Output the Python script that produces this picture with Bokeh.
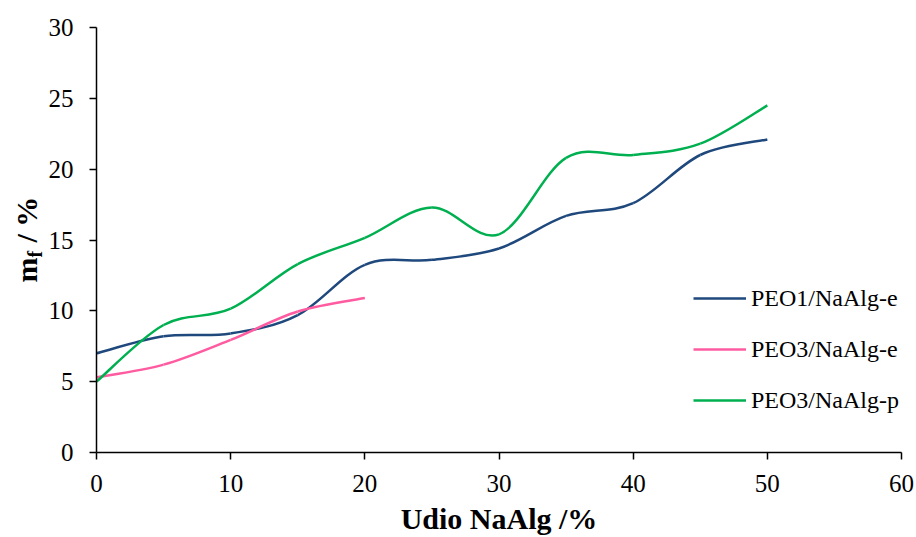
import numpy as np
from bokeh.plotting import figure
from bokeh.layouts import row
from bokeh.models import Legend, LegendItem, ColumnDataSource
from bokeh.core.properties import value
from bokeh.embed import file_html
from bokeh.resources import INLINE

# ---- data ----
x_vals = [0, 5, 10, 15, 20, 25, 30, 35, 40, 45, 50]
peo1_e = [7.0, 8.2, 8.4, 9.7, 13.25, 13.6, 14.4, 16.7, 17.6, 21.0, 22.1]
x_peo3_e = [0, 5, 10, 15, 20]
peo3_e = [5.3, 6.2, 7.95, 9.95, 10.9]
peo3_p = [5.0, 9.0, 10.15, 13.3, 15.15, 17.3, 15.4, 20.8, 21.0, 21.8, 24.5]

series_names = ["PEO1/NaAlg-e", "PEO3/NaAlg-e", "PEO3/NaAlg-p"]
colors = ["#1F497D", "#FF5BA0", "#00B050"]
x_ticks = [0, 10, 20, 30, 40, 50, 60]
y_ticks = [0, 5, 10, 15, 20, 25, 30]

FONT = "Liberation Serif"
LEFT_W = 45
FRAME_H = 425  # plot-area height in px (frames of the row are aligned)

p = figure(width=916 - LEFT_W, height=537, output_backend="svg", toolbar_location=None,
           x_range=(0, 60), y_range=(0, 30),
           min_border_left=95 - LEFT_W, min_border_right=15, min_border_top=27,
           min_border_bottom=85)
p.outline_line_color = None
p.xgrid.grid_line_color = None
p.ygrid.grid_line_color = None
p.background_fill_color = "white"
p.border_fill_color = "white"


def smooth_segments(xs, ys):
    """Excel-like smoothed line: cubic Bezier control points from neighbours."""
    xs = np.asarray(xs, float)
    ys = np.asarray(ys, float)
    n = len(xs)
    x0, y0, x1, y1, cx0, cy0, cx1, cy1 = ([] for _ in range(8))
    for i in range(n - 1):
        p0 = (xs[max(i - 1, 0)], ys[max(i - 1, 0)])
        p1 = (xs[i], ys[i])
        p2 = (xs[i + 1], ys[i + 1])
        p3 = (xs[min(i + 2, n - 1)], ys[min(i + 2, n - 1)])
        x0.append(p1[0]); y0.append(p1[1])
        x1.append(p2[0]); y1.append(p2[1])
        cx0.append(p1[0] + (p2[0] - p0[0]) / 6.0)
        cy0.append(p1[1] + (p2[1] - p0[1]) / 6.0)
        cx1.append(p2[0] - (p3[0] - p1[0]) / 6.0)
        cy1.append(p2[1] - (p3[1] - p1[1]) / 6.0)
    return dict(x0=x0, y0=y0, x1=x1, y1=y1, cx0=cx0, cy0=cy0, cx1=cx1, cy1=cy1)


all_series = [(x_vals, peo1_e), (x_peo3_e, peo3_e), (x_vals, peo3_p)]
items = []
for (xs, ys), name, col in zip(all_series, series_names, colors):
    src = ColumnDataSource(smooth_segments(xs, ys))
    r = p.bezier(x0="x0", y0="y0", x1="x1", y1="y1", cx0="cx0", cy0="cy0",
                 cx1="cx1", cy1="cy1", source=src, line_color=col, line_width=2.5)
    items.append(LegendItem(label=name, renderers=[r], index=0))

legend = Legend(items=items, location=(597, 37))
legend.label_text_font = FONT
legend.label_text_font_size = "24px"
legend.label_text_color = "black"
legend.glyph_width = 53
legend.glyph_height = 30
legend.label_height = 30
legend.spacing = 21
legend.label_standoff = 5
legend.padding = 0
legend.margin = 0
legend.border_line_color = None
legend.background_fill_alpha = 0
p.add_layout(legend)

for ax in (p.xaxis[0], p.yaxis[0]):
    ax.axis_line_color = "black"
    ax.axis_line_width = 1.5
    ax.major_tick_line_color = "black"
    ax.major_tick_line_width = 1.5
    ax.major_tick_out = 7
    ax.major_tick_in = 0
    ax.minor_tick_line_color = None
    ax.major_label_text_font = FONT
    ax.major_label_text_font_size = "25px"
    ax.major_label_text_color = "black"

p.xaxis.ticker = x_ticks
p.yaxis.ticker = y_ticks
p.xaxis.major_label_standoff = 15
p.yaxis.major_label_standoff = 16

p.xaxis.axis_label = "Udio NaAlg /%"
p.xaxis.axis_label_text_font = FONT
p.xaxis.axis_label_text_font_size = "30px"
p.xaxis.axis_label_text_font_style = "bold"
p.xaxis.axis_label_text_color = "black"
p.xaxis.axis_label_standoff = 7

# ---- narrow left panel holding the y-axis title "m_f / %" (subscript f) ----
lp = figure(width=LEFT_W, height=537, output_backend="svg", toolbar_location=None,
            x_range=(0, LEFT_W), y_range=(0, FRAME_H), min_border=0,
            x_axis_location=None, y_axis_location=None)
lp.outline_line_color = None
lp.xgrid.grid_line_color = None
lp.ygrid.grid_line_color = None
lp.border_fill_color = "white"
lp.background_fill_color = "white"

ang = np.pi / 2
y_start = 170  # px above the bottom of the plot area
lp.text(x=[26], y=[y_start], text=["m"], angle=ang, text_font=value(FONT),
        text_font_size="30px", text_font_style="bold", text_color="black",
        text_align="left", text_baseline="middle")
lp.text(x=[34], y=[y_start + 25], text=["f"], angle=ang, text_font=value(FONT),
        text_font_size="20px", text_font_style="bold", text_color="black",
        text_align="left", text_baseline="middle")
lp.text(x=[26], y=[y_start + 40], text=["/ %"], angle=ang, text_font=value(FONT),
        text_font_size="30px", text_font_style="bold", text_color="black",
        text_align="left", text_baseline="middle")

layout = row(lp, p)
open("out.html", "w").write(file_html(layout, INLINE))
